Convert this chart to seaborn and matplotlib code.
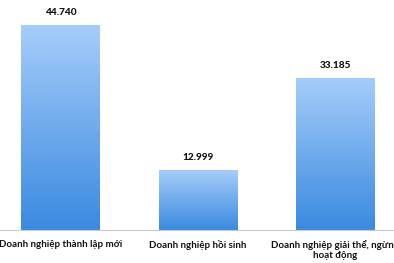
import numpy as np
import pandas as pd
import matplotlib
matplotlib.use("Agg")
import matplotlib.pyplot as plt
import seaborn as sns
from matplotlib.colors import LinearSegmentedColormap

categories = ["Doanh nghiệp thành lập mới", "Doanh nghiệp hồi sinh", "Doanh nghiệp giải thể, ngừng\nhoạt động"]
values = [44740, 12999, 33185]
value_labels = ["44.740", "12.999", "33.185"]

sns.set_theme(style="white")
plt.rcParams['font.family'] = ['Lato', 'DejaVu Sans']

W, H = 394, 263
fig = plt.figure(figsize=(W / 100, H / 100), dpi=100)
ax = fig.add_axes([-8 / W, 33 / H, 412 / W, 230 / H])

df = pd.DataFrame({"cat": categories, "val": values})
sns.barplot(data=df, x="cat", y="val", ax=ax, width=0.575, color="#5a9fe8", saturation=1)

ax.set_ylim(0, 50200)
ax.set_xlim(-0.5, 2.5)

cmap = LinearSegmentedColormap.from_list("g", ["#3a8ae0", "#a6cdfa"])
grad = np.linspace(0, 1, 256).reshape(-1, 1)
for p in ax.patches:
    x0, y0 = p.get_x(), p.get_y()
    w, h = p.get_width(), p.get_height()
    im = ax.imshow(grad, cmap=cmap, origin="lower", aspect="auto",
                   extent=[x0, x0 + w, y0, y0 + h], zorder=p.get_zorder())
    im.set_clip_path(p)
    p.set_facecolor("none")
    p.set_edgecolor("none")

for i, (v, lab) in enumerate(zip(values, value_labels)):
    ax.annotate(lab, (i, v), xytext=(0, 6), textcoords="offset points",
                ha="center", va="bottom", fontsize=7.2, fontweight="black", color="#111111")

ax.set_xlabel("")
ax.set_ylabel("")
ax.set_yticks([])
ax.tick_params(axis="x", length=0, pad=7, labelsize=7, labelcolor="#111111")
for t in ax.get_xticklabels():
    t.set_fontweight("bold")
    t.set_linespacing(1.2)
for s in ["top", "right", "left"]:
    ax.spines[s].set_visible(False)
ax.spines["bottom"].set_color("#c8c8c8")
ax.spines["bottom"].set_linewidth(0.8)

fig.savefig("out.png", dpi=100)
